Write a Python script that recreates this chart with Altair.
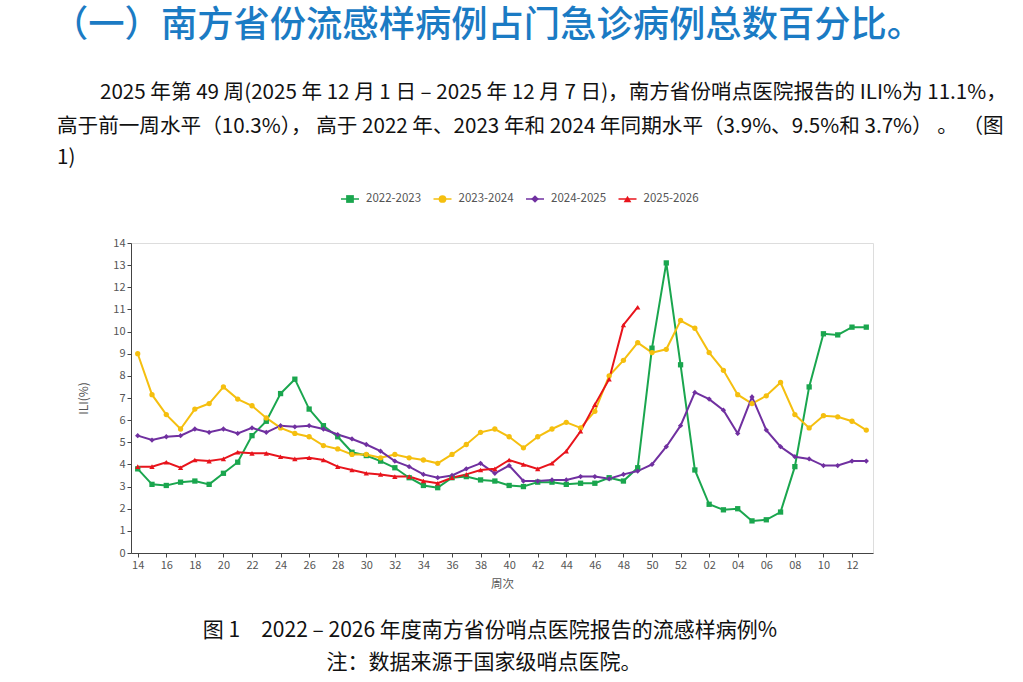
import altair as alt
import pandas as pd

weeks = [str(w) for w in range(14, 53)] + [f"{w:02d}" for w in range(1, 14)]
week_labels = weeks[::2]

seasons = ["2022-2023", "2023-2024", "2024-2025", "2025-2026"]
colors = ["#1aa64e", "#f5bf0f", "#7030a0", "#e8141c"]
shapes = ["square", "circle", "diamond", "triangle-up"]

ili_2022 = [3.8, 3.1, 3.05, 3.2, 3.25, 3.1, 3.6, 4.1, 5.3, 5.95, 7.2, 7.85, 6.5, 5.75,
            5.25, 4.55, 4.4, 4.15, 3.85, 3.4, 3.05, 2.95, 3.4, 3.45, 3.3, 3.25, 3.05, 3.0,
            3.2, 3.2, 3.1, 3.15, 3.15, 3.4, 3.25, 3.85, 9.25, 13.1, 8.5,
            3.75, 2.2, 1.95, 2.0, 1.45, 1.5, 1.85, 3.9, 7.5, 9.9, 9.85, 10.2, 10.2]
ili_2023 = [9.0, 7.15, 6.25, 5.6, 6.5, 6.75, 7.5, 6.95, 6.65, 6.1, 5.65, 5.4, 5.25, 4.85,
            4.7, 4.45, 4.45, 4.3, 4.45, 4.3, 4.2, 4.05, 4.45, 4.9, 5.45, 5.6, 5.25, 4.75,
            5.25, 5.6, 5.9, 5.65, 6.4, 8.0, 8.7, 9.5, 9.05, 9.2, 10.5,
            10.15, 9.05, 8.25, 7.15, 6.75, 7.1, 7.7, 6.25, 5.65, 6.2, 6.15, 5.95, 5.55]
ili_2024 = [5.3, 5.1, 5.25, 5.3, 5.6, 5.45, 5.6, 5.4, 5.65, 5.45, 5.75, 5.7, 5.75, 5.6,
            5.35, 5.15, 4.9, 4.6, 4.15, 3.9, 3.55, 3.4, 3.5, 3.8, 4.05, 3.6, 3.95, 3.25,
            3.25, 3.3, 3.3, 3.45, 3.45, 3.35, 3.55, 3.7, 4.0, 4.8, 5.75,
            7.25, 6.95, 6.45, 5.4, 7.05, 5.55, 4.8, 4.35, 4.25, 3.95, 3.95, 4.15, 4.15]
ili_2025 = [3.9, 3.9, 4.1, 3.85, 4.2, 4.15, 4.25, 4.55, 4.5, 4.5, 4.35, 4.25, 4.3, 4.2,
            3.9, 3.75, 3.6, 3.55, 3.45, 3.45, 3.25, 3.15, 3.4, 3.55, 3.75, 3.8, 4.2, 4.0,
            3.8, 4.05, 4.6, 5.5, 6.7, 7.85, 10.3, 11.1]

rows = []
for name, vals in zip(seasons, [ili_2022, ili_2023, ili_2024, ili_2025]):
    for w, v in zip(weeks, vals):
        rows.append({"week": w, "season": name, "ili": v})
df = pd.DataFrame(rows)

heading = "（一）南方省份流感样病例占门急诊病例总数百分比。"
para1 = "2025 年第 49 周(2025 年 12 月 1 日 – 2025 年 12 月 7 日)，南方省份哨点医院报告的 ILI%为 11.1%，"
para2 = "高于前一周水平（10.3%）， 高于 2022 年、2023 年和 2024 年同期水平（3.9%、9.5%和 3.7%） 。 （图"
para3 = "1)"
caption = "图 1　2022 – 2026 年度南方省份哨点医院报告的流感样病例%"
note = "注：数据来源于国家级哨点医院。"

W, H = 742, 310
LEFT, TOP = 131, 243
FONT = "Noto Sans CJK SC"

color_scale = alt.Scale(domain=seasons, range=colors)
shape_scale = alt.Scale(domain=seasons, range=shapes)

x_enc = alt.X("week:N", scale=alt.Scale(type="point", domain=weeks, padding=0.47),
              axis=alt.Axis(values=week_labels, labelAngle=0, title="周次",
                            labelFont=FONT, labelFontSize=11, labelColor="#555555",
                            titleFont=FONT, titleFontSize=11.5, titleColor="#555555",
                            titleFontWeight="normal", titlePadding=8,
                            domainColor="#444444", tickColor="#444444", tickSize=4,
                            grid=False))
y_enc = alt.Y("ili:Q", scale=alt.Scale(domain=[0, 14], nice=False),
              axis=alt.Axis(values=list(range(0, 15)), title="ILI(%)",
                            labelFont=FONT, labelFontSize=11, labelColor="#555555",
                            titleFont=FONT, titleFontSize=12, titleColor="#555555",
                            titleFontWeight="normal", titlePadding=22,
                            domainColor="#444444", tickColor="#444444", tickSize=4,
                            grid=False))

base = alt.Chart(df)
lines = base.mark_line(strokeWidth=2).encode(
    x=x_enc, y=y_enc,
    color=alt.Color("season:N", scale=color_scale, legend=None),
    detail="season:N",
)
points = base.mark_point(filled=True, size=28, opacity=1).encode(
    x=x_enc, y=y_enc,
    color=alt.Color("season:N", scale=color_scale, legend=None),
    shape=alt.Shape("season:N", scale=shape_scale, legend=None),
)

# hand-built legend (line segment + marker + label), laid out in pixels
LEG_X0 = 350 - LEFT
LEG_STEP = 92.5
LEG_Y = 199 - TOP
leg = pd.DataFrame({
    "season": seasons,
    "cx": [LEG_X0 + i * LEG_STEP for i in range(len(seasons))],
})
leg["x1"] = leg["cx"] - 9
leg["x2"] = leg["cx"] + 9
leg["tx"] = leg["cx"] + 16
leg_base = alt.Chart(leg)
leg_rules = leg_base.mark_rule(strokeWidth=1.5).encode(
    x=alt.X("x1:Q", scale=None, axis=None), x2="x2:Q", y=alt.value(LEG_Y),
    color=alt.Color("season:N", scale=color_scale, legend=None),
)
leg_pts = leg_base.mark_point(filled=True, size=60, opacity=1).encode(
    x=alt.X("cx:Q", scale=None, axis=None), y=alt.value(LEG_Y),
    color=alt.Color("season:N", scale=color_scale, legend=None),
    shape=alt.Shape("season:N", scale=shape_scale, legend=None),
)
leg_txt = leg_base.mark_text(align="left", baseline="middle", font=FONT, fontSize=11.5,
                             color="#555555").encode(
    x=alt.X("tx:Q", scale=None, axis=None), y=alt.value(LEG_Y), text="season:N",
)


def text_layer(txt, x, y, size, color="#111111", align="left", weight="normal"):
    return alt.Chart(pd.DataFrame({"t": [txt]})).mark_text(
        align=align, baseline="middle", font=FONT, fontSize=size,
        color=color, fontWeight=weight,
    ).encode(text="t:N", x=alt.value(x), y=alt.value(y))


texts = [
    text_layer(heading, 52 - LEFT, 26 - TOP, 36.3, color="#1b7bc4", weight=500),
    text_layer(para1, 100 - LEFT, 93 - TOP, 20.6),
    text_layer(para2, 57 - LEFT, 127 - TOP, 20.6),
    text_layer(para3, 57 - LEFT, 158 - TOP, 20.6),
    text_layer(caption, 490 - LEFT, 631 - TOP, 21, align="center"),
    text_layer(note, 484 - LEFT, 663 - TOP, 21, align="center"),
]

chart = alt.layer(lines, points, leg_rules, leg_pts, leg_txt, *texts).resolve_scale(
    color="shared", shape="shared"
).properties(
    width=W, height=H,
    autosize=alt.AutoSizeParams(type="none"),
    padding={"left": LEFT, "top": TOP, "right": 1023 - LEFT - W, "bottom": 682 - TOP - H},
).configure_view(stroke=None).configure(background="white")

chart.save("out.html", embed_options={"renderer": "svg", "actions": False})
